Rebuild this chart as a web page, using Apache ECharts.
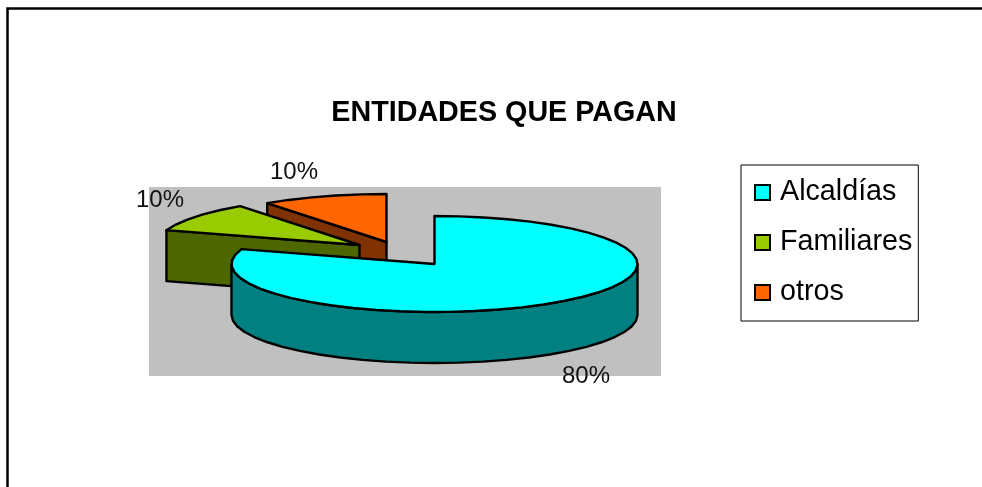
<!DOCTYPE html>
<html><head><meta charset="utf-8">
<style>html,body{margin:0;padding:0;background:#fff}#c{width:982px;height:487px}</style>
<script src="https://cdn.jsdelivr.net/npm/echarts@6/dist/echarts.min.js"></script>
</head><body><div id="c"></div>
<script>
const titleText = 'ENTIDADES QUE PAGAN';
const categories = ['Alcaldías', 'Familiares', 'otros'];
const values = [80, 10, 10];
const topColors = ['#00FFFF', '#99CC00', '#FF6600'];
const sideColors = ['#008080', '#4D6600', '#803300'];
// drawing layout of the oblique pie
const centers = [[434.5, 264], [359.5, 245], [386.5, 242]];
const labelPos = [[586, 376], [160, 200], [294, 172]];
const radiusX = 203, radiusY = 48, depth = 51, arcStep = 7;
const FONT = '"Liberation Sans", Arial, sans-serif';

const total = values.reduce((a, b) => a + b, 0);
const rad = d => d * Math.PI / 180;
function pt(c, a, dy) {
  return [c[0] + radiusX * Math.sin(rad(a)), c[1] - radiusY * Math.cos(rad(a)) + (dy || 0)];
}
function arc(c, a0, a1, dy) {
  const n = Math.max(1, Math.round(Math.abs(a1 - a0) / arcStep));
  const out = [];
  for (let i = 0; i <= n; i++) out.push(pt(c, a0 + (a1 - a0) * i / n, dy));
  return out;
}
function face(points, fill) {
  return { type: 'polygon', shape: { points }, style: { fill, stroke: '#000', lineWidth: 2.4, lineJoin: 'round' } };
}
function cutFace(c, a, fill) {
  const p = pt(c, a);
  return face([[c[0], c[1]], p, [p[0], p[1] + depth], [c[0], c[1] + depth]], fill);
}
function startAngle(idx) {
  let s = 0;
  for (let i = 0; i < idx; i++) s += values[i];
  return s / total * 360;
}
function renderSlice(idx) {
  const a0 = startAngle(idx), a1 = a0 + values[idx] / total * 360, c = centers[idx];
  const children = [];
  if (Math.cos(rad(a0 - 90)) < -1e-6) children.push(cutFace(c, a0, sideColors[idx]));
  if (Math.cos(rad(a1 + 90)) < -1e-6) children.push(cutFace(c, a1, sideColors[idx]));
  const w0 = Math.max(a0, 90), w1 = Math.min(a1, 270);
  if (w1 > w0) {
    const t = arc(c, w0, w1, 0), b = arc(c, w1, w0, depth);
    children.push(face(t.concat(b), sideColors[idx]));
  }
  children.push(face([[c[0], c[1]]].concat(arc(c, a0, a1, 0)), topColors[idx]));
  children.push({
    type: 'text', z2: 50,
    style: {
      x: labelPos[idx][0], y: labelPos[idx][1],
      text: Math.round(values[idx] / total * 100) + '%',
      font: '24px ' + FONT, fill: '#111', align: 'center', verticalAlign: 'middle'
    }
  });
  return { type: 'group', children };
}

const chart = echarts.init(document.getElementById('c'), null, { renderer: 'canvas' });
chart.setOption({
  animation: false,
  backgroundColor: '#fff',
  title: {
    text: titleText, left: 504, top: 99, padding: 0, textAlign: 'center',
    textStyle: { fontFamily: FONT, fontSize: 28.7, fontWeight: 'bold', color: '#000' }
  },
  legend: {
    orient: 'vertical', left: 741, top: 165,
    padding: [13, 6, 14, 13], itemGap: 21, itemWidth: 15, itemHeight: 15,
    borderColor: '#000', borderWidth: 1, backgroundColor: '#fff', borderRadius: 0,
    icon: 'rect', selectedMode: false,
    data: categories,
    textStyle: { fontFamily: FONT, fontSize: 28.7, color: '#000', padding: [0, 0, 0, 5] }
  },
  graphic: [
    { type: 'rect', z: -1, shape: { x: 149, y: 187, width: 512, height: 189 }, style: { fill: '#C0C0C0' } },
    { type: 'polyline', z: -1, shape: { points: [[7.5, 487], [7.5, 8.5], [982, 8.5]] }, style: { stroke: '#000', lineWidth: 2.5, fill: null } }
  ],
  series: categories.map((name, i) => ({
    type: 'custom', name, coordinateSystem: 'none',
    z: 10 - i,
    itemStyle: { color: topColors[i], borderColor: '#000', borderWidth: 2 },
    data: [[values[i]]],
    renderItem: () => renderSlice(i),
    silent: true
  }))
});
</script></body></html>
